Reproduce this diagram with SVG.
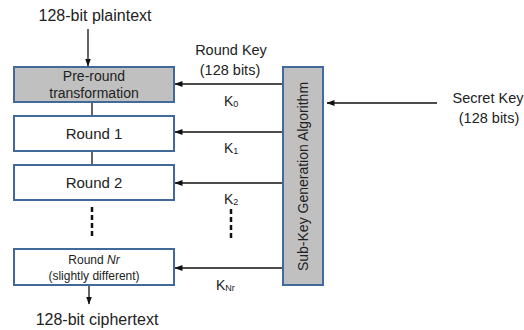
<svg xmlns="http://www.w3.org/2000/svg" width="524" height="330" viewBox="0 0 524 330">
<defs>
<style>
text{font-family:"Liberation Sans",Arial,sans-serif;fill:#222}
.box{stroke:#41699a;stroke-width:2}
.w{fill:#fff}
.g{fill:#c0c0c0}
.ln{stroke:#111;stroke-width:1.3;fill:none}
.dash{stroke:#111;stroke-width:2.5;stroke-dasharray:5 3;fill:none}
</style>
<marker id="ah" viewBox="0 0 8 8" refX="7.5" refY="4" markerWidth="8" markerHeight="8" markerUnits="userSpaceOnUse" orient="auto">
<path d="M0,1 L8,4 L0,7 Z" fill="#111"/>
</marker>
</defs>

<g id="connectors">
<line class="ln" x1="88" y1="29" x2="88" y2="66" marker-end="url(#ah)"/>
<line class="ln" x1="92" y1="102" x2="92" y2="115"/>
<line class="ln" x1="92" y1="151" x2="92" y2="164"/>
<line class="dash" x1="92" y1="207" x2="92" y2="239"/>
<line class="ln" x1="89" y1="285" x2="89" y2="304" marker-end="url(#ah)"/>
<line class="ln" x1="283" y1="84" x2="175" y2="84" marker-end="url(#ah)"/>
<line class="ln" x1="283" y1="132" x2="175" y2="132" marker-end="url(#ah)"/>
<line class="ln" x1="283" y1="183" x2="175" y2="183" marker-end="url(#ah)"/>
<line class="ln" x1="283" y1="268" x2="175" y2="268" marker-end="url(#ah)"/>
<line class="dash" x1="231" y1="209" x2="231" y2="240"/>
<line class="ln" x1="437" y1="103" x2="327" y2="103" marker-end="url(#ah)"/>
</g>

<g id="plaintext"><text x="95" y="21" font-size="16" text-anchor="middle">128-bit plaintext</text></g>
<g id="ciphertext"><text x="97" y="325" font-size="16" text-anchor="middle">128-bit ciphertext</text></g>

<g id="preround">
<rect class="box g" x="14" y="67" width="160" height="35"/>
<text x="94" y="81" font-size="14" text-anchor="middle">Pre-round</text>
<text x="94" y="98" font-size="14" text-anchor="middle">transformation</text>
</g>
<g id="round1">
<rect class="box w" x="14" y="116" width="160" height="35"/>
<text x="94" y="139" font-size="15" text-anchor="middle">Round 1</text>
</g>
<g id="round2">
<rect class="box w" x="14" y="165" width="160" height="35"/>
<text x="94" y="188" font-size="15" text-anchor="middle">Round 2</text>
</g>
<g id="roundNr">
<rect class="box w" x="14" y="249" width="160" height="36"/>
<text x="94" y="264" font-size="12" text-anchor="middle">Round <tspan font-style="italic">Nr</tspan></text>
<text x="94" y="280" font-size="12" text-anchor="middle">(slightly different)</text>
</g>

<g id="subkey">
<rect class="box g" x="283" y="67" width="40" height="218"/>
<text transform="translate(308 176.5) rotate(-90)" font-size="14" text-anchor="middle">Sub-Key Generation Algorithm</text>
</g>

<g id="roundkey-label">
<text x="231" y="55" font-size="14.5" text-anchor="middle">Round Key</text>
<text x="230" y="75" font-size="14.5" text-anchor="middle">(128 bits)</text>
</g>
<g id="k-labels" font-size="14">
<text x="224" y="106">K<tspan font-size="9" dy="1">0</tspan></text>
<text x="224" y="153">K<tspan font-size="9" dy="1">1</tspan></text>
<text x="224" y="204">K<tspan font-size="9" dy="1">2</tspan></text>
<text x="216" y="290">K<tspan font-size="9" dy="1">Nr</tspan></text>
</g>
<g id="secretkey">
<text x="488" y="103" font-size="14.5" text-anchor="middle">Secret Key</text>
<text x="489" y="123" font-size="14.5" text-anchor="middle">(128 bits)</text>
</g>
</svg>
